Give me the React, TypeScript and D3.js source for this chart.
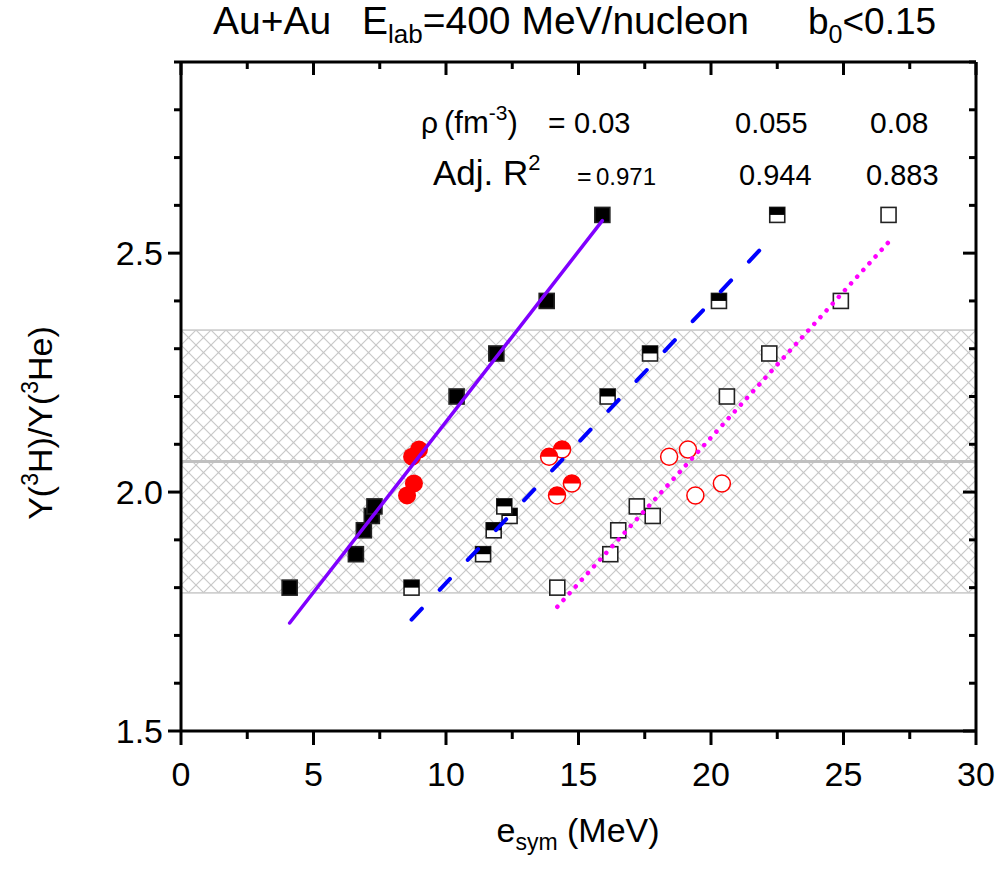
import React from "react";
import * as d3 from "d3";

// ---------- data ----------
const yRatio = [1.80, 1.87, 1.92, 1.95, 1.97, 2.20, 2.29, 2.40, 2.58];
const esymRho003 = [4.1, 6.6, 6.9, 7.2, 7.3, 10.4, 11.9, 13.8, 15.9];
const esymRho0055 = [8.7, 11.4, 11.8, 12.4, 12.2, 16.1, 17.7, 20.3, 22.5];
const esymRho008 = [14.2, 16.2, 16.5, 17.8, 17.2, 20.6, 22.2, 24.9, 26.7];

const yCircle = [2.089, 2.074, 2.018, 1.993];
const circRho003 = [8.98, 8.72, 8.79, 8.53];
const circRho0055 = [14.38, 13.89, 14.75, 14.19];
const circRho008 = [19.13, 18.42, 20.41, 19.41];

// fit lines: [x0, y0, x1, y1]
const fitRho003 = [4.1, 1.726, 15.9, 2.568];
const fitRho0055 = [8.7, 1.733, 21.9, 2.51];
const fitRho008 = [14.2, 1.76, 26.7, 2.523];

const bandLow = 1.789;
const bandHigh = 2.339;
const bandMid = 2.064;

const xMajor = [0, 5, 10, 15, 20, 25, 30];
const xMinor = [2.5, 7.5, 12.5, 17.5, 22.5, 27.5];
const yMajor = [1.5, 2.0, 2.5];
const yMinor = [1.6, 1.7, 1.8, 1.9, 2.1, 2.2, 2.3, 2.4, 2.6, 2.7, 2.8, 2.9];

const rhoLabels = ["0.03", "0.055", "0.08"];
const r2Labels = ["0.971", "0.944", "0.883"];

// ---------- layout ----------
const W = 1001, H = 869;
const L = 181, R = 976, T = 62, B = 731;
const x = d3.scaleLinear().domain([0, 30]).range([L, R]);
const y = d3.scaleLinear().domain([1.5, 2.9]).range([B, T]);
const FONT = "'Liberation Sans', Arial, sans-serif";
const SQ = 15;
const CR = 8.5;

function Square({ cx, cy, kind }: { cx: number; cy: number; kind: string }) {
  const s = SQ;
  return (
    <g>
      <rect x={cx - s / 2} y={cy - s / 2} width={s} height={s}
        fill={kind === "full" ? "#000" : "#fff"} stroke="#222" strokeWidth={1.6} />
      {kind === "half" && <rect x={cx - s / 2} y={cy - s / 2} width={s} height={s / 2} fill="#000" />}
    </g>
  );
}

function Circle({ cx, cy, kind }: { cx: number; cy: number; kind: string }) {
  if (kind === "full") return <circle cx={cx} cy={cy} r={CR + 0.5} fill="#ff0000" />;
  return (
    <g>
      <circle cx={cx} cy={cy} r={CR} fill="#fff" stroke="#ff0000" strokeWidth={1.5} />
      {kind === "half" && (
        <path d={`M${cx - CR},${cy} A${CR},${CR} 0 0 1 ${cx + CR},${cy} Z`} fill="#ff0000" />
      )}
    </g>
  );
}

export default function App() {
  const line = (f: number[]) => `M${x(f[0])},${y(f[1])}L${x(f[2])},${y(f[3])}`;
  const sets = [
    { xs: esymRho003, cs: circRho003, kind: "full" },
    { xs: esymRho0055, cs: circRho0055, kind: "half" },
    { xs: esymRho008, cs: circRho008, kind: "open" },
  ];
  const rhoX = [574, 735, 870];
  const rhoFs = [29, 29, 30];
  const r2X = [596, 739, 866];
  const r2Fs = [24, 29, 29];
  return (
    <svg width={W} height={H} style={{ position: "absolute", left: 0, top: 0, background: "#fff" }}
      fontFamily={FONT}>
      <defs>
        <pattern id="hatch" patternUnits="userSpaceOnUse" width={15} height={15}
          x={L} y={y(bandHigh)}>
          <path d="M0,0L15,15M15,0L0,15" stroke="#c4c4c4" strokeWidth={1.1} />
        </pattern>
      </defs>
      {/* band */}
      <rect x={x(0)} y={y(bandHigh)} width={x(30) - x(0)} height={y(bandLow) - y(bandHigh)}
        fill="url(#hatch)" stroke="#c8c8c8" strokeWidth={1.5} />
      <line x1={x(0)} x2={x(30)} y1={y(bandMid)} y2={y(bandMid)} stroke="#c0c0c0" strokeWidth={3} />

      {/* markers */}
      {sets.map((s, si) => (
        <g key={si}>
          {s.xs.map((v, i) => <Square key={i} cx={x(v)} cy={y(yRatio[i])} kind={s.kind} />)}
          {s.cs.map((v, i) => <Circle key={"c" + i} cx={x(v)} cy={y(yCircle[i])} kind={s.kind} />)}
        </g>
      ))}

      {/* fits */}
      <path d={line(fitRho003)} stroke="#8000ff" strokeWidth={3.5} fill="none" strokeLinecap="round" />
      <path d={line(fitRho0055)} stroke="#0000ff" strokeWidth={4} fill="none" strokeLinecap="round"
        strokeDasharray="15,26" />
      <path d={line(fitRho008)} stroke="#ff00ff" strokeWidth={4.5} fill="none" strokeLinecap="round"
        strokeDasharray="0.1,9" />

      {/* axes frame */}
      <g stroke="#000" strokeWidth={3} fill="none">
        <line x1={L} x2={R} y1={B} y2={B} />
        <line x1={L} x2={R} y1={T} y2={T} />
        <line x1={L} x2={L} y1={T} y2={B} />
        <line x1={R} x2={R} y1={T} y2={B} />
        {xMajor.map((v) => (
          <g key={"xm" + v}>
            <line x1={x(v)} x2={x(v)} y1={B} y2={B + 14} />
            <line x1={x(v)} x2={x(v)} y1={T} y2={T + 13} />
          </g>
        ))}
        {xMinor.map((v) => (
          <g key={"xn" + v}>
            <line x1={x(v)} x2={x(v)} y1={B} y2={B + 8} />
            <line x1={x(v)} x2={x(v)} y1={T} y2={T + 7} />
          </g>
        ))}
        {yMajor.map((v) => (
          <g key={"ym" + v}>
            <line x1={L - 13} x2={L} y1={y(v)} y2={y(v)} />
            <line x1={R - 13} x2={R} y1={y(v)} y2={y(v)} />
          </g>
        ))}
        {yMinor.map((v) => (
          <g key={"yn" + v}>
            <line x1={L - 7} x2={L} y1={y(v)} y2={y(v)} />
            <line x1={R - 7} x2={R} y1={y(v)} y2={y(v)} />
          </g>
        ))}
      </g>

      {/* tick labels */}
      {xMajor.map((v) => (
        <text key={"xl" + v} x={x(v)} y={786} fontSize={34} textAnchor="middle">{v}</text>
      ))}
      {yMajor.map((v) => (
        <text key={"yl" + v} x={163} y={y(v) + 12} fontSize={34} textAnchor="end">{v.toFixed(1)}</text>
      ))}

      {/* axis titles */}
      <text x={578} y={842} fontSize={34} textAnchor="middle">
        e<tspan fontSize={23} dy={8}>sym</tspan><tspan dy={-8}> (MeV)</tspan>
      </text>
      <text transform={`translate(52,423) rotate(-90)`} fontSize={34} textAnchor="middle">
        Y(<tspan fontSize={23} dy={-14}>3</tspan><tspan dy={14}>H)/Y(</tspan>
        <tspan fontSize={23} dy={-14}>3</tspan><tspan dy={14}>He)</tspan>
      </text>

      {/* title */}
      <text x={213} y={34} fontSize={39}>Au+Au</text>
      <text x={362} y={34} fontSize={39}>
        E<tspan fontSize={26} dy={9}>lab</tspan><tspan dy={-9}>=400 MeV/nucleon</tspan>
      </text>
      <text x={808} y={34} fontSize={37}>
        b<tspan fontSize={25} dy={9}>0</tspan><tspan dy={-9}>&lt;0.15</tspan>
      </text>

      {/* annotations */}
      <text x={421} y={133} fontSize={30}>ρ</text>
      <text x={444} y={133} fontSize={31}>
        (fm<tspan fontSize={21} dy={-13}>-3</tspan><tspan dy={13}>)</tspan>
      </text>
      <text x={548} y={133} fontSize={30}>=</text>
      {rhoLabels.map((t, i) => (
        <text key={"rho" + i} x={rhoX[i]} y={133} fontSize={rhoFs[i]}>{t}</text>
      ))}
      <text x={433} y={185} fontSize={35}>
        Adj. R<tspan fontSize={22} dy={-15}>2</tspan>
      </text>
      <text x={577} y={185} fontSize={25}>=</text>
      {r2Labels.map((t, i) => (
        <text key={"r2" + i} x={r2X[i]} y={185} fontSize={r2Fs[i]}>{t}</text>
      ))}
    </svg>
  );
}
